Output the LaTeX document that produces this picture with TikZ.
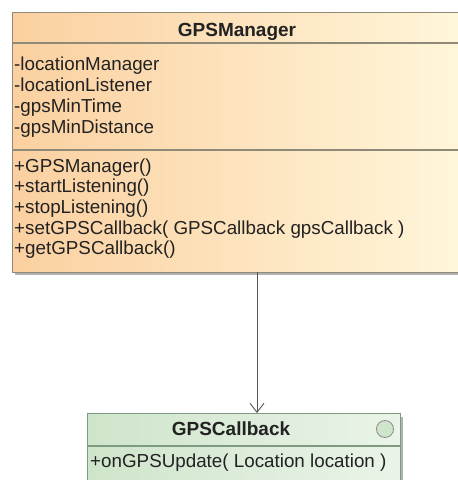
\documentclass[tikz,border=0pt]{standalone}
\usepackage{fontspec}
\setmainfont{Liberation Sans}
\usetikzlibrary{arrows.meta}

\definecolor{mgrL}{HTML}{FBD0A0}
\definecolor{mgrR}{HTML}{FFF6DA}
\definecolor{mgrEdge}{HTML}{8F8A78}
\definecolor{cbL}{HTML}{CFE5CB}
\definecolor{cbR}{HTML}{EAF4E8}
\definecolor{cbEdge}{HTML}{7E9A80}
\definecolor{ink}{HTML}{222222}
\definecolor{wire}{HTML}{555555}

\tikzset{
  classbox/.style={draw, line width=1.2pt, rectangle, anchor=north west, inner sep=0pt},
  shade box/.style={fill=black!30},
  member/.style={anchor=base west, inner sep=0pt, text=ink,
    font=\fontsize{18.8}{20}\selectfont},
  title/.style={anchor=base, inner sep=0pt, text=ink,
    font=\fontsize{19}{20}\selectfont\bfseries},
  assoc/.style={draw=wire, line width=0.9pt, -{Straight Barb[length=9pt,width=14pt]}}
}

\begin{document}
\begin{tikzpicture}[x=1pt,y=-1pt]
  \fill[white] (0,0) rectangle (458,480);

  % shadows under the two boxes
  \fill[shade box] (15,16) rectangle (458,275);
  \fill[shade box] (90,417) rectangle (403,480);

  % box backgrounds
  \shade[left color=mgrL, right color=mgrR] (12,12) rectangle (462,272);
  \shade[left color=cbL, right color=cbR] (87,413) rectangle (400,484);

  % GPSManager class (runs past the right edge of the page)
  \node[classbox, draw=mgrEdge, minimum width=490pt, minimum height=260pt] (mgr) at (12,12) {};
  \draw[mgrEdge, line width=1.2pt] (12,43) -- (502,43);
  \draw[mgrEdge, line width=1.2pt] (12,150) -- (502,150);
  \node[title] (mgrT) at (237,36) {GPSManager};
  \node[member] (a1) at (14,70) {-locationManager};
  \node[member] (a2) at (14,91) {-locationListener};
  \node[member] (a3) at (14,112) {-gpsMinTime};
  \node[member] (a4) at (14,133) {-gpsMinDistance};
  \node[member] (m1) at (14,172) {+GPSManager()};
  \node[member] (m2) at (14,192) {+startListening()};
  \node[member] (m3) at (14,213) {+stopListening()};
  \node[member] (m4) at (14,234) {+setGPSCallback( GPSCallback gpsCallback )};
  \node[member] (m5) at (14,254) {+getGPSCallback()};

  % GPSCallback interface (runs past the bottom edge)
  \node[classbox, draw=cbEdge, minimum width=313pt, minimum height=85pt] (cb) at (87,413) {};
  \draw[cbEdge, line width=1.2pt] (87,446) -- (400,446);
  \node[title] (cbT) at (231,435) {GPSCallback};
  \node[circle, draw=black!45, fill=cbL, line width=0.8pt, minimum size=17pt,
        inner sep=0pt] (cbI) at (385,429) {};
  \node[member] (c1) at (90,467) {+onGPSUpdate( Location location )};

  % association
  \coordinate (src) at (257,272);
  \draw[assoc] (src) -- (src |- cb.north);

  % page size
  \pgfresetboundingbox
  \useasboundingbox (0,0) rectangle (458,480);
\end{tikzpicture}
\end{document}
